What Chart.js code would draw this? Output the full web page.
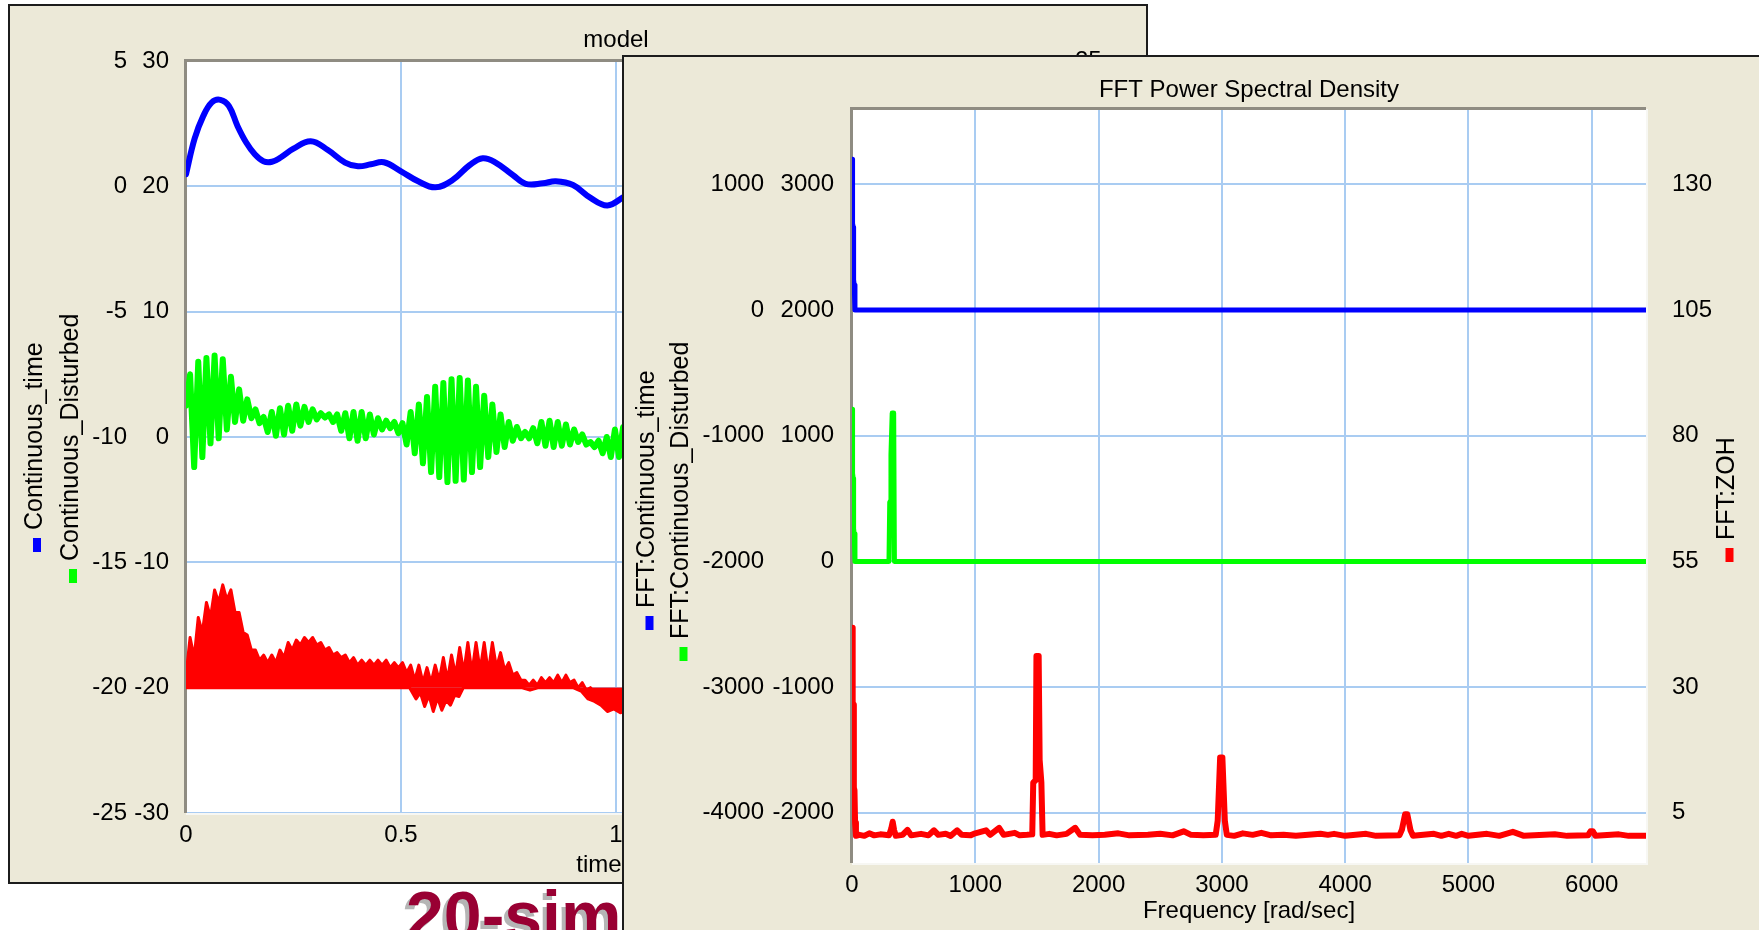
<!DOCTYPE html>
<html>
<head>
<meta charset="utf-8">
<title>model / FFT Power Spectral Density</title>
<script src="https://cdn.jsdelivr.net/npm/chart.js@4.4.1/dist/chart.umd.min.js"></script>
<style>
  html, body { margin: 0; padding: 0; background: #fff; overflow: hidden; width: 1759px; height: 930px; }
  .win { position: absolute; box-sizing: border-box; background: #ECE9D8; border: 2px solid #1c1c1c; overflow: hidden; }
  #win1 { left: 8px; top: 4px; width: 1140px; height: 880px; z-index: 1; }
  #win2 { left: 622px; top: 55px; width: 1150px; height: 900px; z-index: 3; }
  #logo { position: absolute; left: 406px; top: 881px; font: bold 68px/68px "Liberation Sans", Arial, sans-serif;
          color: #990033; text-shadow: -4px 4px 0 #b5b5b5; z-index: 2; white-space: nowrap; }
  canvas { display: block; }
</style>
</head>
<body>
<div id="win1" class="win"><canvas id="modelChart" width="1136" height="876"></canvas></div>
<div id="logo">20-sim</div>
<div id="win2" class="win"><canvas id="fftChart" width="1135" height="873"></canvas></div>
<script>
// model window: time responses
const timeTicks = [0, 0.5, 1, 1.5, 2];
const contTimeTicks = [-25, -20, -15, -10, -5, 0, 5];
const contDistTicks = [-30, -20, -10, 0, 10, 20, 30];
const zohTicks = [-5, 0, 5, 10, 15, 20, 25];

const contTimeT = [0, 0.02, 0.04, 0.06, 0.08, 0.1, 0.12, 0.14, 0.16, 0.18, 0.2, 0.22, 0.25, 0.29, 0.33, 0.37, 0.4,
  0.43, 0.46, 0.5, 0.54, 0.58, 0.62, 0.66, 0.69, 0.72, 0.76, 0.79, 0.83, 0.86, 0.9, 0.94, 0.98, 1.02];
const contTimeV = [0.48, 1.9, 2.8, 3.35, 3.45, 3.2, 2.4, 1.75, 1.28, 1.0, 0.98, 1.15, 1.5, 1.8, 1.45, 0.95, 0.8,
  0.88, 0.96, 0.6, 0.2, -0.04, 0.25, 0.85, 1.12, 0.95, 0.45, 0.1, 0.12, 0.2, 0.05, -0.45, -0.76, -0.4];

// disturbed signal and ZOH output, sampled every half period of the disturbance
const sampleStep = 0.0095;
const contDistV = [2.5, 5.0, -2.4, 6.0, -1.6, 6.3, -0.5, 6.5, -0.1, 6.2,
  0.6, 4.8, 1.2, 3.8, 1.3, 3.0, 1.5, 2.2, 1.1, 1.6,
  0.4, 2.0, 0.1, 2.3, 0.2, 2.5, 0.5, 2.6, 0.9, 2.4,
  1.2, 2.2, 1.4, 1.9, 1.55, 1.8, 1.2, 1.8, 0.5, 1.9,
  -0.1, 2.0, -0.3, 2.0, -0.1, 1.8, 0.2, 1.5, 0.6, 1.3,
  0.7, 1.2, 0.3, 1.1, -0.6, 2.0, -1.3, 2.6, -2.1, 3.2,
  -2.8, 4.0, -3.2, 4.3, -3.6, 4.6, -3.5, 4.7, -3.4, 4.5,
  -2.8, 4.0, -2.4, 3.3, -1.6, 2.6, -1.2, 1.8, -0.8, 1.2,
  -0.3, 0.8, -0.1, 0.4, -0.1, 0.7, -0.5, 1.2, -0.7, 1.3,
  -0.8, 1.2, -0.7, 1.0, -0.6, 0.6, -0.4, 0.2, -0.6, -0.4,
  -0.8, -0.3, -1.3, 0.0, -1.6, 0.6, -1.6, 0.8, -1.5];
const zohTopV = [0.5, 2.0, 1.2, 2.8, 2.2, 3.4, 2.8, 3.9, 3.4, 4.1,
  3.5, 3.9, 3.0, 3.0, 2.2, 2.1, 1.5, 1.5, 1.1, 1.3,
  1.0, 1.3, 1.0, 1.5, 1.2, 1.8, 1.5, 1.9, 1.7, 2.0,
  1.8, 2.0, 1.7, 1.8, 1.5, 1.6, 1.3, 1.4, 1.2, 1.3,
  1.0, 1.2, 0.9, 1.1, 0.9, 1.1, 0.9, 1.1, 0.9, 1.1,
  0.8, 1.0, 0.8, 1.0, 0.6, 0.9, 0.3, 0.9, 0.2, 0.8,
  0.2, 0.9, 0.3, 1.2, 0.3, 1.3, 0.5, 1.6, 0.6, 1.8,
  0.6, 1.8, 0.7, 1.8, 0.6, 1.8, 0.8, 1.4, 0.7, 1.0,
  0.5, 0.6, 0.3, 0.3, 0.1, 0.3, 0.1, 0.4, 0.2, 0.4,
  0.2, 0.5, 0.2, 0.5, 0.2, 0.3, 0.0, 0.2, -0.1, 0.0,
  -0.2, -0.1, -0.3, -0.2, -0.3, -0.2, -0.3, -0.2, -0.3];
const zohLowT = [0, 0.52, 0.535, 0.545, 0.555, 0.565, 0.575, 0.585, 0.595, 0.605, 0.615, 0.625, 0.635, 0.645,
  0.78, 0.8, 0.82, 0.9, 0.92, 0.935, 0.95, 0.965, 0.98, 0.995, 1.01, 1.026];
const zohLowV = [0, 0, -0.45, -0.2, -0.75, -0.3, -0.95, -0.4, -0.9, -0.5, -0.7, -0.3, -0.35, 0,
  0, -0.1, 0, 0, -0.15, -0.45, -0.55, -0.7, -0.95, -0.85, -1.0, -0.9];

// FFT window
const freqTicks = [0, 1000, 2000, 3000, 4000, 5000, 6000];
const fftTimeTicks = [-4000, -3000, -2000, -1000, 0, 1000];
const fftDistTicks = [-2000, -1000, 0, 1000, 2000, 3000];
const fftZohTicks = [5, 30, 55, 80, 105, 130];

const fftTimeF = [0, 3, 6, 10, 13, 18, 24, 6440];
const fftTimeV = [1200, 1180, 690, 660, 240, 200, 0, 0];
const fftDistF = [0, 3, 6, 10, 13, 18, 24, 300, 306, 311, 316, 326, 338, 344, 6440];
const fftDistV = [1210, 1180, 700, 660, 260, 220, 0, 0, 470, 480, 850, 1180, 1180, 0, 0];
const fftZohF = [0, 4, 7, 12, 15, 20, 25, 32, 60, 100, 140, 180, 230, 300, 318, 330, 342, 355, 410, 450,
  480, 560, 620, 665, 700, 760, 800, 853, 890, 960, 1000, 1087, 1120, 1193, 1230, 1320, 1360, 1420, 1462, 1470,
  1490, 1496, 1514, 1522, 1536, 1546, 1600, 1660, 1740, 1810, 1850, 1950, 2050, 2160, 2250, 2400, 2500, 2600, 2690, 2750,
  2850, 2950, 2966, 2986, 3004, 3024, 3040, 3100, 3170, 3250, 3320, 3400, 3500, 3600, 3800, 3860, 3910, 4000, 4170, 4250,
  4440, 4460, 4486, 4504, 4530, 4550, 4720, 4780, 4840, 4900, 4945, 5000, 5150, 5250, 5360, 5450, 5700, 5800, 5970, 5990,
  6010, 6030, 6220, 6300, 6440];
const fftZohV = [41.8, 41.5, 27, 26.5, 10, 9.5, 3, 0.4, 0.6, 0.4, 0.9, 0.5, 0.7, 0.5, 1.8, 3.2, 1.5, 0.4, 0.6, 1.6,
  0.5, 0.8, 0.5, 1.5, 0.6, 0.8, 0.4, 1.5, 0.6, 0.5, 0.9, 1.5, 0.6, 2.0, 0.6, 1.0, 0.5, 0.6, 0.7, 11,
  11.5, 36.2, 36.2, 15.5, 11, 0.6, 0.8, 0.5, 0.8, 2.0, 0.6, 0.5, 0.6, 0.9, 0.5, 0.6, 0.8, 0.5, 1.3, 0.6,
  0.5, 0.6, 3.4, 16, 16, 3.4, 0.6, 0.4, 0.9, 0.6, 1.0, 0.5, 0.6, 0.4, 0.8, 0.6, 0.8, 0.4, 0.8, 0.4,
  0.5, 1.6, 4.7, 4.7, 1.5, 0.4, 0.8, 0.4, 0.8, 0.4, 0.8, 0.4, 0.8, 0.4, 1.2, 0.4, 0.7, 0.4, 0.5, 1.3,
  1.3, 0.4, 0.7, 0.4, 0.4];

const FONT = '"Liberation Sans", Arial, sans-serif';
const BEIGE = '#ECE9D8';
const GRID = '#A9CCF2';
const BLUE = '#0000FF', GREEN = '#00FF00', RED = '#FF0000';
Chart.defaults.font.family = FONT;
Chart.defaults.color = '#000';

const pts = (xs, ys) => ys.map((y, i) => ({ x: xs[i], y }));
const sampled = ys => ys.map((y, i) => ({ x: +(i * sampleStep).toFixed(4), y }));

// window background, white plot area, sunken frame, titles and rotated legends
function decor(cfg) {
  return {
    id: 'decor',
    beforeDraw(chart) {
      const { ctx, chartArea: a } = chart;
      ctx.save();
      ctx.fillStyle = BEIGE;
      ctx.fillRect(0, 0, chart.width, chart.height);
      ctx.fillStyle = '#fff';
      ctx.fillRect(a.left, a.top, a.width, a.height);
      ctx.restore();
    },
    beforeDatasetsDraw(chart) {
      const { ctx, chartArea: a } = chart;
      ctx.save();
      ctx.fillStyle = '#f7f7f3';
      ctx.fillRect(a.left, a.bottom, a.width + 2, 2);
      ctx.fillRect(a.right, a.top, 2, a.height + 2);
      ctx.fillStyle = '#8f8c82';
      ctx.fillRect(a.left - 2, a.top - 2, a.width + 2, 3);
      ctx.fillRect(a.left - 2, a.top - 2, 3, a.height + 2);
      ctx.restore();
    },
    afterDraw(chart) {
      const { ctx, chartArea: a } = chart;
      ctx.save();
      ctx.fillStyle = '#000';
      ctx.font = '24px ' + FONT;
      ctx.textAlign = 'center';
      ctx.textBaseline = 'alphabetic';
      ctx.fillText(cfg.title, (a.left + a.right) / 2, a.top - cfg.titleGap);
      ctx.fillText(cfg.xTitle, cfg.xTitleX, cfg.xTitleY);
      ctx.font = '25px ' + FONT;
      ctx.textAlign = 'left';
      cfg.legend.forEach(item => {
        ctx.fillStyle = item.color;
        ctx.fillRect(item.x - 8.5, item.y - 14, 8, 14);
        ctx.save();
        ctx.translate(item.x, item.y - 22);
        ctx.rotate(-Math.PI / 2);
        ctx.fillStyle = '#000';
        ctx.fillText(item.text, 0, 0);
        ctx.restore();
      });
      ctx.restore();
    }
  };
}

function yAxis(position, min, max, tickVals, width, pad, weight, withGrid) {
  return {
    type: 'linear', position, min, max, weight,
    afterBuildTicks: s => { s.ticks = tickVals.map(v => ({ value: v })); },
    afterFit: s => { s.width = width; },
    ticks: { font: { size: 24 }, padding: pad, autoSkip: false, callback: v => String(v) },
    grid: withGrid ? { color: GRID, lineWidth: 2, drawTicks: false } : { display: false, drawTicks: false },
    border: { display: false }
  };
}

function xAxis(min, max, tickVals, height) {
  return {
    type: 'linear', position: 'bottom', min, max,
    afterBuildTicks: s => { s.ticks = tickVals.map(v => ({ value: v })); },
    afterFit: s => { s.height = height; },
    ticks: { font: { size: 24 }, padding: 8, autoSkip: false, maxRotation: 0, callback: v => String(v) },
    grid: { color: GRID, lineWidth: 2, drawTicks: false },
    border: { display: false }
  };
}

const line = (data, color, axis, width, extra) => Object.assign({
  data, yAxisID: axis, borderColor: color, backgroundColor: color, borderWidth: width,
  pointRadius: 0, tension: 0, fill: false, borderJoinStyle: 'round', borderCapStyle: 'round'
}, extra);

const baseOptions = padTop => ({
  responsive: false, animation: false, devicePixelRatio: 1,
  layout: { padding: { top: padTop, left: 0, right: 0, bottom: 0 } },
  plugins: { legend: { display: false }, tooltip: { enabled: false } },
  events: []
});

new Chart(document.getElementById('modelChart'), {
  type: 'line',
  data: {
    datasets: [
      line(pts(contTimeT, contTimeV), BLUE, 'yTime', 6, { tension: 0.4 }),
      line(sampled(contDistV), GREEN, 'yDist', 6),
      line(sampled(zohTopV), RED, 'yZoh', 3, { fill: { value: 0 } }),
      line(pts(zohLowT, zohLowV), RED, 'yZoh', 3, { fill: { value: 0 } })
    ]
  },
  options: Object.assign(baseOptions(55), {
    scales: {
      x: xAxis(0, 2, timeTicks, 69),
      yTime: yAxis('left', -25, 5, contTimeTicks, 120, 3, 1, false),
      yDist: yAxis('left', -30, 30, contDistTicks, 56, 17, 0, true),
      yZoh: yAxis('right', -5, 25, zohTicks, 100, 29, 0, false)
    }
  }),
  plugins: [decor({
    title: 'model', titleGap: 14,
    xTitle: 'time', xTitleX: 589, xTitleY: 866,
    legend: [
      { text: 'Continuous_time', color: BLUE, x: 31.5, y: 546 },
      { text: 'Continuous_Disturbed', color: GREEN, x: 67.5, y: 577 }
    ]
  })]
});

new Chart(document.getElementById('fftChart'), {
  type: 'line',
  data: {
    datasets: [
      line(pts(fftTimeF, fftTimeV), BLUE, 'yTime', 5),
      line(pts(fftDistF, fftDistV), GREEN, 'yDist', 5),
      line(pts(fftZohF, fftZohV), RED, 'yZoh', 6)
    ]
  },
  options: Object.assign(baseOptions(52), {
    scales: {
      x: xAxis(0, 6440, freqTicks, 67),
      yTime: yAxis('left', -4400, 1600, fftTimeTicks, 144, 4, 1, false),
      yDist: yAxis('left', -2400, 3600, fftDistTicks, 84, 18, 0, true),
      yZoh: yAxis('right', -5, 145, fftZohTicks, 113, 26, 0, false)
    }
  }),
  plugins: [decor({
    title: 'FFT Power Spectral Density', titleGap: 12,
    xTitle: 'Frequency [rad/sec]', xTitleX: 625, xTitleY: 861,
    legend: [
      { text: 'FFT:Continuous_time', color: BLUE, x: 30, y: 573 },
      { text: 'FFT:Continuous_Disturbed', color: GREEN, x: 64, y: 604 },
      { text: 'FFT:ZOH', color: RED, x: 1110, y: 505 }
    ]
  })]
});
</script>
</body>
</html>
